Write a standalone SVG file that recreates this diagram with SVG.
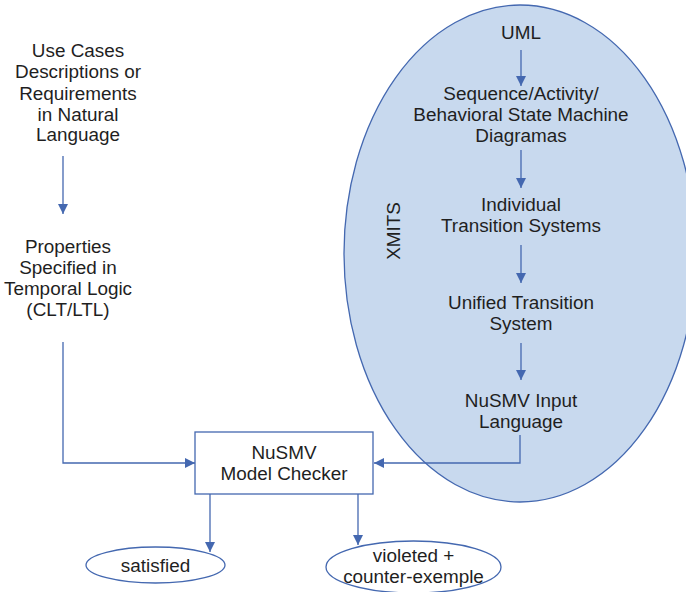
<svg xmlns="http://www.w3.org/2000/svg" width="686" height="592" viewBox="0 0 686 592">
<defs>
<style>
text{font-family:"Liberation Sans",Arial,sans-serif;font-size:18.9px;fill:#1f1f1f;text-anchor:middle}
.ln{fill:none;stroke:#4468b0;stroke-width:1.3}
.sh{fill:#fff;stroke:#4468b0;stroke-width:1.3}
</style>
<marker id="ah" viewBox="0 0 10 10" refX="10" refY="5" markerWidth="10" markerHeight="10" markerUnits="userSpaceOnUse" orient="auto">
<path d="M0,0 L10,5 L0,10 z" fill="#4468b0"/>
</marker>
</defs>
<rect width="686" height="592" fill="#fff"/>
<g id="xmits">
<ellipse cx="520" cy="253.5" rx="176" ry="248.5" fill="#c8d9ee" stroke="#4468b0" stroke-width="1.3"/>
<text transform="translate(400,231) rotate(-90)">XMITS</text>
</g>
<g id="uml"><text x="521" y="39">UML</text></g>
<g id="diagrams"><text x="521" y="100">Sequence/Activity/</text><text x="521" y="121">Behavioral State Machine</text><text x="521" y="142">Diagramas</text></g>
<g id="individual"><text x="521" y="211">Individual</text><text x="521" y="232">Transition Systems</text></g>
<g id="unified"><text x="521" y="309">Unified Transition</text><text x="521" y="330">System</text></g>
<g id="nusmvinput"><text x="521" y="407">NuSMV Input</text><text x="521" y="428">Language</text></g>
<g id="usecases"><text x="78" y="57">Use Cases</text><text x="78" y="78">Descriptions or</text><text x="78" y="100">Requirements</text><text x="78" y="121">in Natural</text><text x="78" y="141">Language</text></g>
<g id="properties"><text x="68" y="253">Properties</text><text x="68" y="274">Specified in</text><text x="68" y="295">Temporal Logic</text><text x="68" y="316">(CLT/LTL)</text></g>
<g id="checker"><rect class="sh" x="195" y="432" width="178" height="62"/><text x="284" y="459">NuSMV</text><text x="284" y="480">Model Checker</text></g>
<g id="satisfied"><ellipse class="sh" cx="155.5" cy="565" rx="69.5" ry="18"/><text x="155.5" y="572">satisfied</text></g>
<g id="violeted"><ellipse class="sh" cx="413.5" cy="567" rx="87.5" ry="26"/><text x="413.5" y="562">violeted +</text><text x="413.5" y="583">counter-exemple</text></g>
<g id="connectors">
<path class="ln" d="M521,50 V86" marker-end="url(#ah)"/>
<path class="ln" d="M521,150 V188" marker-end="url(#ah)"/>
<path class="ln" d="M521,245 V283" marker-end="url(#ah)"/>
<path class="ln" d="M521,343 V380" marker-end="url(#ah)"/>
<path class="ln" d="M520,435 V463 H374" marker-end="url(#ah)"/>
<path class="ln" d="M63,156 V214" marker-end="url(#ah)"/>
<path class="ln" d="M63,342 V463 H195" marker-end="url(#ah)"/>
<path class="ln" d="M210,494 V552" marker-end="url(#ah)"/>
<path class="ln" d="M358,494 V545" marker-end="url(#ah)"/>
</g>
</svg>
